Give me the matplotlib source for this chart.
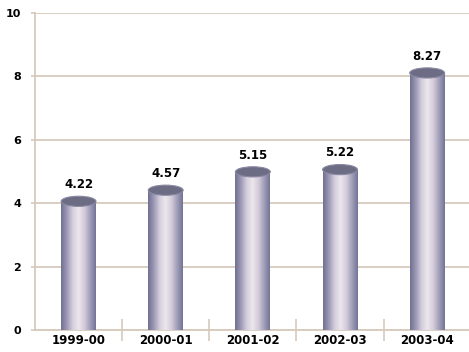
import numpy as np
import matplotlib
matplotlib.use("Agg")
import matplotlib.pyplot as plt
from matplotlib.patches import Rectangle, Ellipse
from matplotlib.colors import LinearSegmentedColormap

# Valores por ano
anos = ["1999-00", "2000-01", "2001-02", "2002-03", "2003-04"]
valores = [4.22, 4.57, 5.15, 5.22, 8.27]
rotulos = ["4.22", "4.57", "5.15", "5.22", "8.27"]
yticks = [0, 2, 4, 6, 8, 10]

cor_grade = "#d6cabd"
largura = 0.4
altura_tampa = 0.32  # altura da elipse do topo, em unidades do eixo y

# gradiente horizontal do cilindro (bordas escuras, brilho perto do centro)
cmap_cil = LinearSegmentedColormap.from_list(
    "cilindro",
    ["#70708f", "#9c98b6", "#d4cedc", "#ece6ee", "#d4cdda", "#a29eba", "#727496"],
)
gradiente = np.linspace(0, 1, 256).reshape(1, -1)

fig = plt.figure(figsize=(4.69, 3.52), dpi=100)
ax = fig.add_axes([0.0746, 0.0625, 0.9254, 0.9005])
ax.set_xlim(-0.5, 4.48)
ax.set_ylim(0, 10)

ax.set_yticks(yticks)
ax.set_yticklabels([str(t) for t in yticks], fontsize=8, fontweight="heavy")
ax.yaxis.grid(True, color=cor_grade, linewidth=1.3)
ax.set_axisbelow(True)

ax.set_xticks(range(len(anos)))
ax.set_xticklabels(anos, fontsize=8.5, fontweight="heavy")
ax.set_xticks(np.arange(0.5, len(anos) - 0.5, 1), minor=True)
ax.tick_params(axis="x", which="major", length=0, pad=3)
ax.tick_params(axis="x", which="minor", length=16, direction="inout", color=cor_grade, width=1.2)
ax.tick_params(axis="y", length=3, color=cor_grade, width=1.2, pad=7)

for lado in ["top", "right"]:
    ax.spines[lado].set_visible(False)
for lado in ["left", "bottom"]:
    ax.spines[lado].set_color(cor_grade)
    ax.spines[lado].set_linewidth(1.3)

for i, (v, txt) in enumerate(zip(valores, rotulos)):
    x0 = i - largura / 2
    topo = v - altura_tampa / 2
    # corpo do cilindro
    corpo = Rectangle((x0, 0), largura, topo, transform=ax.transData)
    img = ax.imshow(gradiente, cmap=cmap_cil, aspect="auto",
                    extent=[x0, x0 + largura, 0, topo], zorder=3)
    img.set_clip_path(corpo)
    # tampa do cilindro
    tampa = Ellipse((i, topo), largura, altura_tampa, facecolor="#6c6c84",
                    edgecolor="#8a88a2", linewidth=0.8, zorder=4)
    ax.add_patch(tampa)
    ax.text(i, v + 0.16, txt, ha="center", va="bottom", fontsize=8.5,
            fontweight="heavy", zorder=5)

fig.savefig("out.png", dpi=100)
